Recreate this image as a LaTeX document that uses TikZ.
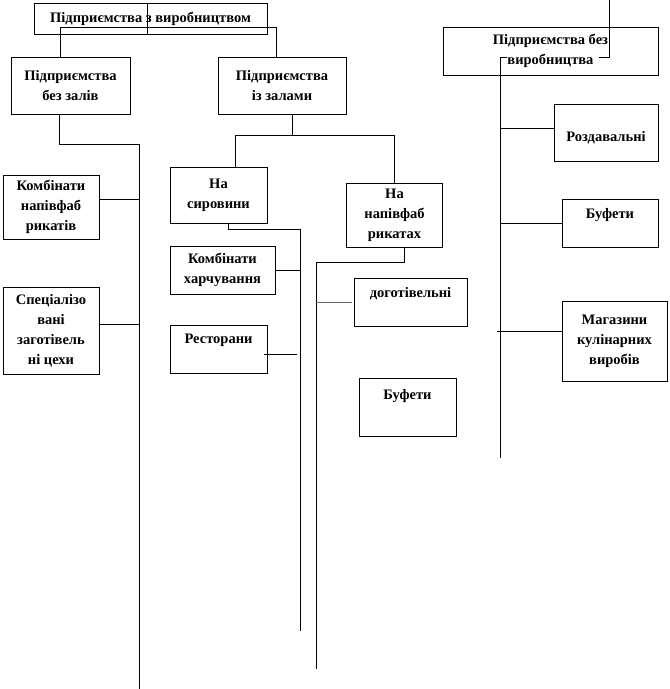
\documentclass[tikz,border=0pt]{standalone}
\usepackage{fontspec}
\setmainfont{Liberation Serif}
\begin{document}
\begin{tikzpicture}[x=1pt,y=-1pt,line width=0.8pt,
        box/.style={draw,align=center,inner sep=1pt,font=\fontsize{14.5}{20}\selectfont\bfseries},
        lift/.style={text height=9pt,text depth=#1}]
        \useasboundingbox(0,0)rectangle(670,689);
        \node[box,minimum width=233pt,minimum height=31pt](top)at(150.5,18.5){Підприємства з виробництвом};
        \node[box,minimum width=119pt,minimum height=57pt](bez)at(70.5,85.5){Підприємства\\без залів};
        \node[box,minimum width=128pt,minimum height=57pt](iz)at(282,85.5){Підприємства\\із залами};
        \node[box,minimum width=215pt,minimum height=48pt](bezvyr)at(550.5,51){Підприємства без\\виробництва};
        \node[box,minimum width=96pt,minimum height=64pt](komb1)at(51,207){Комбінати\\напівфаб\\рикатів};
        \node[box,minimum width=96pt,minimum height=87pt](spec)at(51,330.5){Спеціалізо\\вані\\заготівель\\ні цехи};
        \node[box,minimum width=97pt,minimum height=56pt](syr)at(218.5,195){На\\сировини};
        \node[box,minimum width=96pt,minimum height=64pt](napiv)at(394.5,215){На\\напівфаб\\рикатах};
        \node[box,minimum width=105pt,minimum height=48pt](kombh)at(222.5,270){Комбінати\\харчування};
        \node[box,lift=21pt,minimum width=97pt,minimum height=48pt](rest)at(218.5,349){Ресторани};
        \node[box,lift=19pt,minimum width=113pt,minimum height=48pt](dogot)at(410.5,302){доготівельні};
        \node[box,lift=25pt,minimum width=97pt,minimum height=58pt](buf2)at(407.5,407){Буфети};
        \node[box,text height=21pt,text depth=3pt,minimum width=104pt,minimum height=57pt](rozd)at(606,132.5){Роздавальні};
        \node[box,lift=19pt,minimum width=96pt,minimum height=48pt](buf1)at(610,223){Буфети};
        \node[box,minimum width=105pt,minimum height=80pt](mag)at(614.5,341){Магазини\\кулінарних\\виробів};

        \draw([xshift=-3.5pt]top.north)--([xshift=-3.5pt]top.south);
        \draw([xshift=-10.5pt]bez.north)--++(0,-29)-|([xshift=-6pt]iz.north);
        \coordinate(lend)at(139,689);
        \draw([xshift=-11pt]bez.south)--++(0,30)-|(lend);
        \draw([yshift=8pt]komb1.east)coordinate(k1)--(k1-|lend);
        \draw([yshift=6.5pt]spec.east)coordinate(s1)--(s1-|lend);

        \draw([xshift=10pt]iz.south)--++(0,22);
        \draw([xshift=16.5pt]syr.north)--++(0,-31)-|(napiv.north);
        \coordinate(mend)at(300,631);
        \draw([xshift=9.5pt]syr.south)--++(0,6)-|(mend);
        \draw(kombh.east)--(kombh.east-|mend);
        \draw([xshift=-3pt,yshift=-5pt]rest.east)--++(33,0);
        \coordinate(rend)at(316,669);
        \draw([xshift=9.5pt]napiv.south)--++(0,15)-|(rend);
        \draw[black!60]([xshift=-2pt]dogot.west)--(dogot.west-|rend);

        \coordinate(rtop)at(609,0);
        \draw(rtop)|-++(-10,57);
        \coordinate(vend)at(500,458);
        \draw([xshift=-43.5pt,yshift=-6pt]bezvyr.center)-|(vend);
        \draw([yshift=4.5pt]rozd.west)coordinate(r1)--(r1-|vend);
        \draw(buf1.west)--(buf1.west-|vend);
        \draw([yshift=10pt]mag.west)--++(-65,0);
    \end{tikzpicture}
\end{document}
